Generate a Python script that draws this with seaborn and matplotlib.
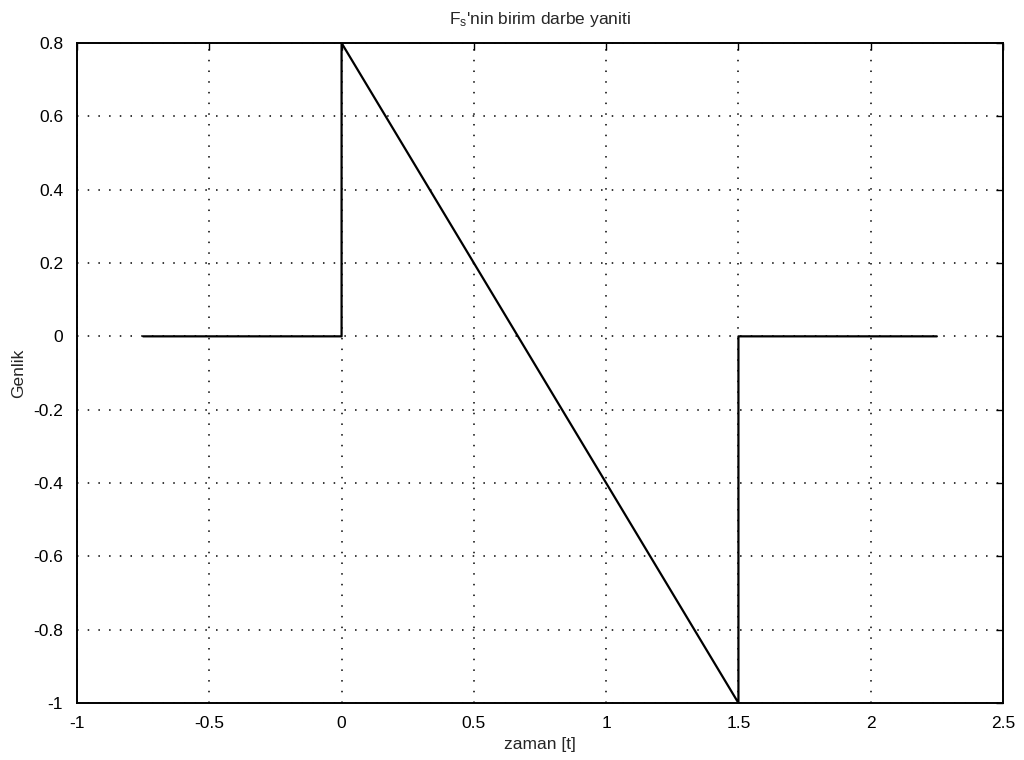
import matplotlib
matplotlib.use("Agg")
import matplotlib.pyplot as plt
import seaborn as sns
import pandas as pd

# Impulse response of F_s: zero, step up to 0.8 at t=0, ramp down to -1 at t=1.5, back to zero
t_vals = [-0.75, 0.0, 0.0, 1.5, 1.5, 2.25]
amp_vals = [0.0, 0.0, 0.8, -1.0, 0.0, 0.0]
x_ticks = [-1, -0.5, 0, 0.5, 1, 1.5, 2, 2.5]
x_labels = ["-1", "-0.5", "0", "0.5", "1", "1.5", "2", "2.5"]
y_ticks = [-1, -0.8, -0.6, -0.4, -0.2, 0, 0.2, 0.4, 0.6, 0.8]
y_labels = ["-1", "-0.8", "-0.6", "-0.4", "-0.2", "0", "0.2", "0.4", "0.6", "0.8"]

sns.set_style("white")
plt.rcParams["font.family"] = ["Liberation Sans", "DejaVu Sans"]
plt.rcParams["mathtext.fontset"] = "custom"
plt.rcParams["mathtext.rm"] = "Liberation Sans"
plt.rcParams["mathtext.it"] = "Liberation Sans"

df = pd.DataFrame({"t": t_vals, "amp": amp_vals})

fig = plt.figure(figsize=(10.24, 7.6), dpi=100)
ax = fig.add_axes([0.0752, 0.075, 0.9043, 0.8684])

sns.lineplot(data=df, x="t", y="amp", sort=False, estimator=None,
             color="black", linewidth=1.6, ax=ax)

ax.set_xlim(-1, 2.5)
ax.set_ylim(-1, 0.8)
ax.set_xticks(x_ticks)
ax.set_xticklabels(x_labels)
ax.set_yticks(y_ticks)
ax.set_yticklabels(y_labels)
ax.tick_params(direction="in", length=5, width=1, colors="black",
               labelsize=12.5, top=True, right=True)
ax.tick_params(axis="x", pad=9)
ax.tick_params(axis="y", pad=10)
ax.grid(True, linestyle=(0, (1, 6)), color="black", linewidth=1.1)

for s in ax.spines.values():
    s.set_visible(True)
    s.set_color("black")
    s.set_linewidth(1.4)

ax.set_xlabel("zaman [t]", fontsize=12.5, labelpad=5)
ax.set_ylabel("Genlik", fontsize=12.5, labelpad=5)
ax.set_title("$\\mathregular{F_{s}}$'nin birim darbe yaniti", fontsize=12.5, pad=14)

fig.savefig("out.png", dpi=100)
